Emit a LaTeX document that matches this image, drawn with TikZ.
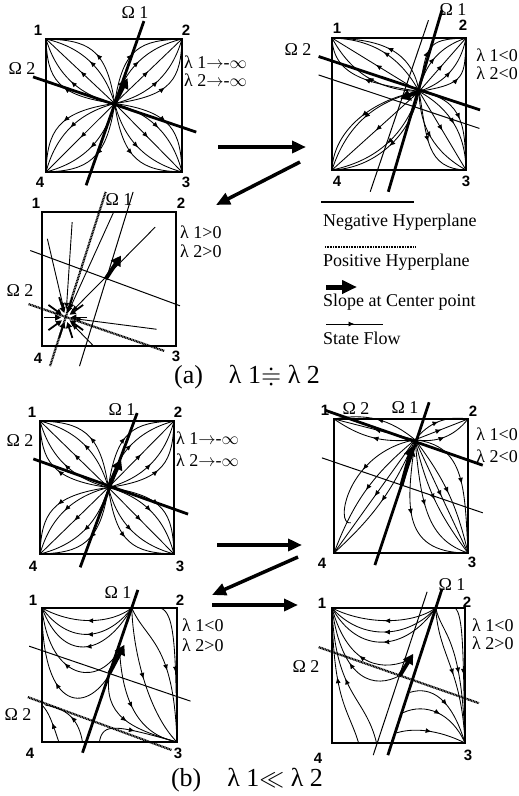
\documentclass[tikz,border=0pt]{standalone}
\usepackage{amssymb}
\usepackage{fontspec}
\setmainfont{Liberation Serif}
\setsansfont{Liberation Sans}
\usetikzlibrary{arrows.meta,decorations.markings}
\begin{document}
\begin{tikzpicture}[x=1pt, y=-1pt,
	panelbox/.style={line width=1.4pt},
	omegaline/.style={line width=2.8pt},
	negplane/.style={line width=1pt},
	posplane/.style={line width=2.2pt, dash pattern=on 1pt off 0.6pt},
	flow/.style={line width=0.85pt, postaction={decorate},
		decoration={markings, mark=at position 0.5 with {\arrow{Latex[length=6pt,width=5pt]}}}},
	slope/.style={line width=4pt, -{Triangle[length=10pt,width=11pt]}},
	conv/.style={line width=0.9pt, -{Latex[length=6pt,width=5pt]}},
	burst/.style={line width=1.8pt, -{Triangle[length=6pt,width=6pt]}},
	panelarrow/.style={line width=3.5pt, -{Triangle[length=14pt,width=12pt]}},
	lab/.style={font=\fontsize{18}{20}\selectfont, inner sep=0pt},
	num/.style={font=\sffamily\bfseries\fontsize{15}{17}\selectfont, inner sep=0pt},
	captext/.style={font=\fontsize{26}{30}\selectfont, inner sep=0pt}]
	\useasboundingbox (0,0) rectangle (519,796);
	% (a) top left
	\begin{scope}[shift={(114,105.5)}, x=68pt, y=66.5pt]
	\coordinate (a1o) at (0.01,0.03);
	\draw[panelbox] (-1,-1) rectangle (1,1);
	\foreach \sx/\sy/\mx/\my in {-1/1/1/-1, 1/1/-1/-1, 1/-1/-1/1, -1/-1/1/1}{
		\draw[flow] (a1o) -- (\sx,\sy);
		\draw[flow] (a1o) to[bend left=30] (\sx,\sy);
		\draw[flow] (a1o) to[bend right=30] (\sx,\sy);
		\draw[flow] (a1o) .. controls +(\sx*0.12,\sy*0.85) and +(\mx*0.6,\my*0.02) .. (\sx,\sy);
		\draw[flow] (a1o) .. controls +(\sx*0.85,\sy*0.12) and +(\mx*0.02,\my*0.6) .. (\sx,\sy);
	}
	\draw[omegaline] (0.44,1.27) -- (-0.41,-1.2);
	\draw[omegaline] (-1.19,0.43) -- (1.21,-0.4);
	\draw[slope] (a1o) -- (0.2,0.41);
	\end{scope}
	\node[num] (a1n1) at (38,30) {1};
	\node[num] (a1n2) at (186,30) {2};
	\node[num] (a1n3) at (186,182) {3};
	\node[num] (a1n4) at (40,182) {4};
	\node[lab] (a1w1) at (135,13) {Ω 1};
	\node[lab] (a1w2) at (22,69) {Ω 2};
	\node[lab, anchor=west] (a1l1) at (184,62) {λ 1$\rightarrow$-$\infty$};
	\node[lab, anchor=west] (a1l2) at (184,80) {λ 2$\rightarrow$-$\infty$};
	% (a) top right
	\begin{scope}[shift={(399,104)}, x=67pt, y=66pt]
	\coordinate (a2o) at (0.3,0.19);
	\draw[panelbox] (-1,-1) rectangle (1,1);
	\foreach \sx/\sy/\mx/\my in {-1/1/1/-1, 1/1/-1/-1, 1/-1/-1/1, -1/-1/1/1}{
		\draw[flow] (a2o) -- (\sx,\sy);
		\draw[flow] (a2o) to[bend left=30] (\sx,\sy);
		\draw[flow] (a2o) to[bend right=30] (\sx,\sy);
		\draw[flow] (a2o) .. controls +(\sx*0.12,\sy*0.7) and +(\mx*0.6,\my*0.02) .. (\sx,\sy);
		\draw[flow] (a2o) .. controls +(\sx*0.7,\sy*0.12) and +(\mx*0.02,\my*0.6) .. (\sx,\sy);
	}
	\draw[negplane] (0.44,1.27) -- (-0.43,-1.33);
	\draw[negplane] (-1.2,0.44) -- (1.2,-0.37);
	\draw[omegaline] (0.64,1.42) -- (-0.16,-1.33);
	\draw[omegaline] (-1.2,0.72) -- (1.21,-0.09);
	\draw[slope] (a2o) -- (0.02,0.08);
	\end{scope}
	\node[num] (a2n1) at (337,28) {1};
	\node[num] (a2n2) at (463,25) {2};
	\node[num] (a2n3) at (466,181) {3};
	\node[num] (a2n4) at (337,181) {4};
	\node[lab] (a2w1) at (453,10) {Ω 1};
	\node[lab] (a2w2) at (298,50) {Ω 2};
	\node[lab, anchor=east] (a2l1) at (518,55) {λ 1<0};
	\node[lab, anchor=east] (a2l2) at (518,73) {λ 2<0};
	% (a) bottom left
	\begin{scope}[shift={(109,279)}, x=67pt, y=67pt]
	\coordinate (a3p) at (-0.645,-0.575);
	\coordinate (a3c) at (-0.05,0);
	\draw[panelbox] (-1,-1) rectangle (1,1);
	\draw[posplane] (-0.05,1.3) -- (-0.88,-1.3);
	\draw[posplane] (-1.2,-0.375) -- (0.83,-1.075);
	\draw[negplane] (0.36,1.3) -- (-0.44,-1.3);
	\draw[negplane] (-1.175,0.425) -- (1.06,-0.4);
	\foreach \a in {0,36,...,324}
		\draw[burst] ([shift={(\a:0.32)}]a3p) -- ([shift={(\a:0.07)}]a3p);
	\draw[conv] (0.69,0.775) -- (-0.554,-0.483);
	\draw[conv] (-0.55,0.85) -- (-0.636,-0.445);
	\draw[conv] (-0.92,0.6) -- (-0.675,-0.448);
	\draw[conv] (0.07,1) -- (-0.591,-0.457);
	\draw[conv] (0.71,-0.75) -- (-0.516,-0.592);
	\draw[conv] (-0.23,-1) -- (-0.554,-0.668);
	\draw[slope] (a3c) -- (0.18,0.35);
	\end{scope}
	\node[num] (a3n1) at (36,203) {1};
	\node[num] (a3n2) at (181,203) {2};
	\node[num] (a3n3) at (176,356) {3};
	\node[num] (a3n4) at (38,358) {4};
	\node[lab] (a3w1) at (119,200) {Ω 1};
	\node[lab] (a3w2) at (20,291) {Ω 2};
	\node[lab, anchor=west] (a3l1) at (180,232) {λ 1>0};
	\node[lab, anchor=west] (a3l2) at (180,251) {λ 2>0};
	% legend
	\coordinate (negl) at (321,202);
	\coordinate (negr) at (414,202);
	\draw[negplane, line width=1.5pt] (negl) -- (negr);
	\node[lab, anchor=west] (negtxt) at (323,222) {Negative Hyperplane};
	\coordinate (posl) at (325,247);
	\coordinate (posr) at (416,247);
	\draw[posplane] (posl) -- (posr);
	\node[lab, anchor=west] (postxt) at (323,262) {Positive Hyperplane};
	\coordinate (slopel) at (326,287);
	\coordinate (sloper) at (357,287);
	\draw[slope, line width=5pt, -{Triangle[length=15pt,width=13pt]}] (slopel) -- (sloper);
	\node[lab, anchor=west] (slopetxt) at (323,302) {Slope at Center point};
	\coordinate (flowl) at (326,324);
	\coordinate (flowr) at (383,324);
	\draw[flow] (flowl) -- (flowr);
	\node[lab, anchor=west] (flowtxt) at (323,338) {State Flow};
	\node[captext] (capa) at (247,377) {(a)\quad λ 1$\doteqdot$ λ 2};
	\coordinate (aa1) at (218,147);
	\coordinate (aa2) at (306,147);
	\coordinate (aa3) at (300,162);
	\coordinate (aa4) at (216,205);
	\draw[panelarrow] (aa1) -- (aa2);
	\draw[panelarrow] (aa3) -- (aa4);
	% (b) top left
	\begin{scope}[shift={(107,487.5)}, x=67pt, y=66.5pt]
	\coordinate (b1o) at (0.02,0);
	\draw[panelbox] (-1,-1) rectangle (1,1);
	\foreach \sx/\sy/\mx/\my in {-1/1/1/-1, 1/1/-1/-1, 1/-1/-1/1, -1/-1/1/1}{
		\draw[flow] (b1o) -- (\sx,\sy);
		\draw[flow] (b1o) to[bend left=30] (\sx,\sy);
		\draw[flow] (b1o) to[bend right=30] (\sx,\sy);
		\draw[flow] (b1o) .. controls +(\sx*0.12,\sy*0.85) and +(\mx*0.6,\my*0.02) .. (\sx,\sy);
		\draw[flow] (b1o) .. controls +(\sx*0.85,\sy*0.12) and +(\mx*0.02,\my*0.6) .. (\sx,\sy);
	}
	\draw[omegaline] (0.45,1.12) -- (-0.4,-1.2);
	\draw[omegaline] (-1.1,0.43) -- (1.21,-0.4);
	\draw[slope] (b1o) -- (0.21,0.42);
	\end{scope}
	\node[num] (b1n1) at (32,412) {1};
	\node[num] (b1n2) at (178,412) {2};
	\node[num] (b1n3) at (180,566) {3};
	\node[num] (b1n4) at (33,566) {4};
	\node[lab] (b1w1) at (122,410) {Ω 1};
	\node[lab] (b1w2) at (20,441) {Ω 2};
	\node[lab, anchor=west] (b1l1) at (176,438) {λ 1$\rightarrow$-$\infty$};
	\node[lab, anchor=west] (b1l2) at (176,460) {λ 2$\rightarrow$-$\infty$};
	% (b) top right
	\begin{scope}[shift={(401,486)}, x=67pt, y=67pt]
	\coordinate (b2o) at (0.21,0.69);
	\coordinate (b2c) at (0.01,0.02);
	\draw[panelbox] (-1,-1) rectangle (1,1);
	\draw[flow] (b2o) -- (-1,1);
	\draw[flow] (b2o) to[bend left=20] (-1,1);
	\draw[flow] (b2o) to[bend right=25] (-1,1);
	\draw[flow] (b2o) -- (1,1);
	\draw[flow] (b2o) to[bend left=30] (1,1);
	\draw[flow] (b2o) to[bend right=30] (1,1);
	\draw[flow] (b2o) -- (-1,-1);
	\draw[flow] (b2o) to[bend left=12] (-1,-1);
	\draw[flow] (b2o) to[bend right=15] (-1,-1);
	\draw[flow] (b2o) .. controls (-0.8,0.5) and (-1,-0.6) .. (-0.75,-0.55);
	\draw[flow] (b2o) -- (1,-1);
	\draw[flow] (b2o) to[bend left=12] (1,-1);
	\draw[flow] (b2o) to[bend right=12] (1,-1);
	\draw[flow] (b2o) .. controls (0.1,-0.2) and (-0.05,-1) .. (1,-1);
	\draw[flow] (b2o) .. controls (0.3,-0.3) and (0.4,-0.8) .. (1,-1);
	\draw[flow] (b2o) .. controls (0.95,0.6) and (0.95,0) .. (1,-1);
	\draw[negplane] (-1.18,0.42) -- (1.22,-0.4);
	\draw[omegaline] (0.42,1.25) -- (-0.39,-1.18);
	\draw[omegaline] (-1.13,1.13) -- (1.22,0.31);
	\draw[slope] (b2c) -- (0.17,0.6);
	\end{scope}
	\node[num] (b2n1) at (325,410) {1};
	\node[num] (b2n2) at (473,411) {2};
	\node[num] (b2n3) at (472,562) {3};
	\node[num] (b2n4) at (322,563) {4};
	\node[lab] (b2w1) at (405,408) {Ω 1};
	\node[lab] (b2w2) at (356,409) {Ω 2};
	\node[lab, anchor=east] (b2l1) at (518,434) {λ 1<0};
	\node[lab, anchor=east] (b2l2) at (518,456) {λ 2<0};
	% (b) bottom left
	\begin{scope}[shift={(109.5,675)}, x=67.5pt, y=67pt]
	\coordinate (b3t) at (0.33,1);
	\coordinate (b3c) at (0,0.03);
	\draw[panelbox] (-1,-1) rectangle (1,1);
	\draw[flow] (b3t) .. controls (0,0.75) and (-0.55,0.75) .. (-1,1);
	\draw[flow] (b3t) .. controls (-0.05,0.5) and (-0.6,0.45) .. (-1,1);
	\draw[flow] (b3t) .. controls (-0.1,0.25) and (-0.7,0.2) .. (-1,1);
	\draw[flow] (0.1,0.3) .. controls (-0.25,-0.2) and (-0.9,0) .. (-1,1);
	\draw[flow] (0.05,0.1) .. controls (-0.3,-0.6) and (-1,-0.6) .. (-1,1);
	\draw[flow] (b3t) .. controls (0.55,0.5) and (0.95,0.5) .. (1,-1);
	\draw[flow] (b3t) .. controls (0.35,0.3) and (0.6,-0.6) .. (1,-1);
	\draw[flow] (0.15,0.35) .. controls (0.2,-0.5) and (0.5,-0.9) .. (1,-1);
	\draw[flow] (b3c) .. controls (-0.1,-0.6) and (0.3,-0.8) .. (1,-1);
	\draw[flow] (0.75,1) .. controls (0.98,0.95) and (0.98,0.3) .. (1,-1);
	\draw[flow] (-0.75,-1) .. controls (-0.85,-0.7) and (-0.9,-0.55) .. (-1,-0.45);
	\draw[flow] (-0.4,-1) .. controls (-0.45,-0.7) and (-0.6,-0.5) .. (-0.95,-0.45);
	\draw[flow] (-0.15,-1) .. controls (-0.1,-0.7) and (0.1,-0.75) .. (1,-1);
	\draw[negplane] (-1.19,0.43) -- (1.2,-0.39);
	\draw[posplane] (-1.21,-0.33) -- (0.92,-1.12);
	\draw[omegaline] (0.42,1.27) -- (-0.4,-1.16);
	\draw[slope] (b3c) -- (0.22,0.45);
	\end{scope}
	\node[num] (b3n1) at (33,600) {1};
	\node[num] (b3n2) at (180,600) {2};
	\node[num] (b3n3) at (178,753) {3};
	\node[num] (b3n4) at (30,753) {4};
	\node[lab] (b3w1) at (118,593) {Ω 1};
	\node[lab] (b3w2) at (18,715) {Ω 2};
	\node[lab, anchor=west] (b3l1) at (182,625) {λ 1<0};
	\node[lab, anchor=west] (b3l2) at (182,645) {λ 2>0};
	% (b) bottom right
	\begin{scope}[shift={(398.5,675.5)}, x=66.5pt, y=67.5pt]
	\coordinate (b4t) at (0.56,1);
	\coordinate (b4c) at (0.02,0);
	\draw[panelbox] (-1,-1) rectangle (1,1);
	\draw[flow] (b4t) .. controls (0.2,0.75) and (-0.5,0.75) .. (-1,1);
	\draw[flow] (b4t) .. controls (0.15,0.55) and (-0.55,0.5) .. (-1,1);
	\draw[flow] (b4t) .. controls (0.1,0.35) and (-0.6,0.3) .. (-1,1);
	\draw[flow] (0.2,0.25) .. controls (-0.2,0.05) and (-0.75,0.1) .. (-1,1);
	\draw[flow] (b4c) .. controls (-0.35,-0.2) and (-0.85,-0.1) .. (-1,1);
	\draw[flow] (-0.33,-1) .. controls (-0.5,-0.3) and (-0.95,-0.3) .. (-1,1);
	\draw[flow] (-0.6,-1) .. controls (-0.75,-0.5) and (-0.98,-0.4) .. (-1,1);
	\draw[flow] (b4t) .. controls (0.65,0.6) and (0.95,0.6) .. (1,-1);
	\draw[flow] (b4t) .. controls (0.6,0.3) and (0.95,0.1) .. (1,-1);
	\draw[flow] (0.85,1) .. controls (0.98,0.9) and (0.97,0.3) .. (1,-1);
	\draw[flow] (0.17,-0.25) .. controls (0.5,-0.15) and (0.8,-0.35) .. (1,-1);
	\draw[flow] (0.07,-0.55) .. controls (0.4,-0.4) and (0.8,-0.55) .. (1,-1);
	\draw[flow] (-0.03,-0.85) .. controls (0.3,-0.75) and (0.7,-0.85) .. (1,-1);
	\draw[negplane] (0.43,1.24) -- (-0.38,-1.18);
	\draw[posplane] (-1.2,0.42) -- (1.21,-0.41);
	\draw[omegaline] (0.65,1.27) -- (-0.16,-1.18);
	\draw[slope] (b4c) -- (0.22,0.32);
	\end{scope}
	\node[num] (b4n1) at (322,603) {1};
	\node[num] (b4n2) at (467,602) {2};
	\node[num] (b4n3) at (468,755) {3};
	\node[num] (b4n4) at (318,758) {4};
	\node[lab] (b4w1) at (452,585) {Ω 1};
	\node[lab] (b4w2) at (306,667) {Ω 2};
	\node[lab, anchor=west] (b4l1) at (472,625) {λ 1<0};
	\node[lab, anchor=west] (b4l2) at (472,643) {λ 2>0};
	\node[captext] (capb) at (247,780) {(b)\quad λ 1$\ll$ λ 2};
	\coordinate (ba1) at (217,545);
	\coordinate (ba2) at (302,545);
	\coordinate (ba3) at (298,557);
	\coordinate (ba4) at (212,595);
	\coordinate (ba5) at (212,605);
	\coordinate (ba6) at (298,605);
	\draw[panelarrow] (ba1) -- (ba2);
	\draw[panelarrow] (ba3) -- (ba4);
	\draw[panelarrow] (ba5) -- (ba6);
\end{tikzpicture}
\end{document}
